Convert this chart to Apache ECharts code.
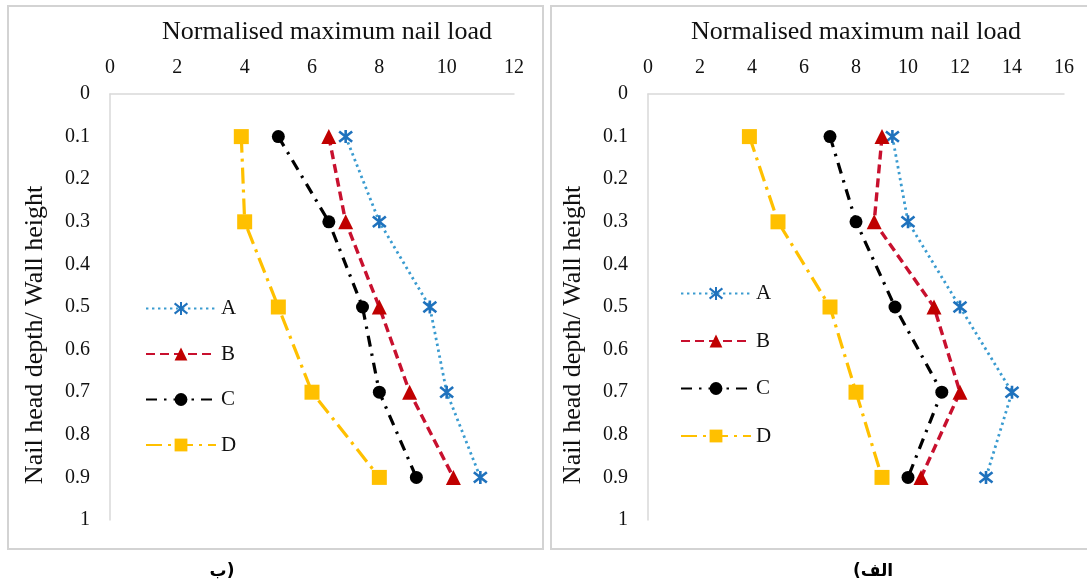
<!DOCTYPE html>
<html><head><meta charset="utf-8">
<script src="https://cdn.jsdelivr.net/npm/echarts@6/dist/echarts.min.js"></script>
<style>html,body{margin:0;padding:0;background:#fff}#c{width:1087px;height:588px}</style>
</head><body><div id="c"></div>
<script>
// ---- data ----
const depths = [0.1, 0.3, 0.5, 0.7, 0.9];
const seriesNames = ['A', 'B', 'C', 'D'];
// left panel (ب)
const leftA = [7, 8, 9.5, 10, 11];
const leftB = [6.5, 7, 8, 8.9, 10.2];
const leftC = [5, 6.5, 7.5, 8, 9.1];
const leftD = [3.9, 4, 5, 6, 8];
// right panel (الف)
const rightA = [9.4, 10, 12, 14, 13];
const rightB = [9, 8.7, 11, 12, 10.5];
const rightC = [7, 8, 9.5, 11.3, 10];
const rightD = [3.9, 5, 7, 8, 9];
// ticks
const leftXTicks = [0, 2, 4, 6, 8, 10, 12];
const rightXTicks = [0, 2, 4, 6, 8, 10, 12, 14, 16];
const yTicks = [0, 0.1, 0.2, 0.3, 0.4, 0.5, 0.6, 0.7, 0.8, 0.9, 1];
// texts
const xAxisTitle = 'Normalised maximum nail load';
const yAxisTitle = 'Nail head depth/ Wall height';
const captions = ['ب)', '(الف'];

// ---- styles ----
const FONT = '"Liberation Serif", "Times New Roman", serif';
const asterisk = 'path://M1,1L9,9M9,1L1,9M5,0L5,10';
const styleOf = {
  A: {symbol: asterisk, size: 13, color: '#1F72BD', line: '#3A9BD0', type: [2.4, 3.6], width: 2.8, fill: '#1F72BD', border: 2.6},
  B: {symbol: 'triangle', size: 15, color: '#C00000', line: '#C8102E', type: [9, 5], width: 3.4, fill: '#C00000', border: 0},
  C: {symbol: 'circle', size: 13, color: '#000000', line: '#000000', type: [11, 7, 2.5, 7], width: 3.2, fill: '#000000', border: 0},
  D: {symbol: 'rect', size: 15, color: '#FFC000', line: '#FFC000', type: [16, 6, 3, 6], width: 3.2, fill: '#FFC000', border: 0}
};

const panels = [
  {data: {A: leftA, B: leftB, C: leftC, D: leftD}, ticks: leftXTicks},
  {data: {A: rightA, B: rightB, C: rightC, D: rightD}, ticks: rightXTicks}
];

const series = [];
panels.forEach((p, pi) => {
  seriesNames.forEach(n => {
    const s = styleOf[n];
    series.push({
      name: n, type: 'line', xAxisIndex: pi, yAxisIndex: pi,
      data: p.data[n].map((v, i) => [v, depths[i]]),
      symbol: s.symbol, symbolSize: s.size, showAllSymbol: true,
      lineStyle: {color: s.line, width: s.width, type: s.type, cap: 'butt'},
      itemStyle: {color: s.fill, borderColor: s.color, borderWidth: s.border},
      emphasis: {disabled: true}, clip: false, animation: false
    });
  });
});

const axisLineStyle = {show: true, lineStyle: {color: '#D9D9D9', width: 1.5}};
const labelStyle = {fontFamily: FONT, fontSize: 20, color: '#111'};
const nameStyle = {fontFamily: FONT, fontSize: 26, color: '#111'};

const grids = [
  {left: 110, top: 94, width: 404, height: 426},
  {left: 648, top: 94, width: 416, height: 426}
];

const xAxes = panels.map((p, pi) => ({
  gridIndex: pi, type: 'value', position: 'top',
  min: p.ticks[0], max: p.ticks[p.ticks.length - 1], interval: p.ticks[1] - p.ticks[0],
  axisLine: axisLineStyle, axisTick: {show: false}, splitLine: {show: false},
  axisLabel: Object.assign({margin: 16}, labelStyle),
  name: xAxisTitle, nameLocation: 'middle', nameGap: 49,
  nameTextStyle: Object.assign({padding: pi === 0 ? [0, 0, 0, 30] : [0, 0, 0, 0]}, nameStyle)
}));

const yAxes = panels.map((p, pi) => ({
  gridIndex: pi, type: 'value', inverse: true,
  min: yTicks[0], max: yTicks[yTicks.length - 1], interval: yTicks[1] - yTicks[0],
  axisLine: axisLineStyle, axisTick: {show: false}, splitLine: {show: false},
  axisLabel: Object.assign({margin: 20, formatter: v => String(+v.toFixed(1))}, labelStyle),
  name: yAxisTitle, nameLocation: 'middle', nameGap: 62, nameRotate: 90,
  nameTextStyle: Object.assign({padding: [0, 56, 0, 0]}, nameStyle)
}));

const legendBase = {
  data: seriesNames, orient: 'vertical', itemWidth: 70, itemHeight: 16,
  selectedMode: false, textStyle: {fontFamily: FONT, fontSize: 21, color: '#111'}
};

const chart = echarts.init(document.getElementById('c'), null, {renderer: 'canvas'});
chart.setOption({
  animation: false,
  backgroundColor: '#fff',
  grid: grids,
  xAxis: xAxes,
  yAxis: yAxes,
  legend: [
    Object.assign({left: 140, top: 293, itemGap: 24.5}, legendBase),
    Object.assign({left: 675, top: 278, itemGap: 26.5}, legendBase)
  ],
  graphic: [
    {type: 'rect', shape: {x: 8, y: 6, width: 535, height: 543}, style: {fill: 'none', stroke: '#D3D3D3', lineWidth: 2}, z: -1},
    {type: 'rect', shape: {x: 551, y: 6, width: 545, height: 543}, style: {fill: 'none', stroke: '#D3D3D3', lineWidth: 2}, z: -1},
    {type: 'text', x: 222, y: 572, style: {text: captions[0], font: 'bold 17px "DejaVu Sans", sans-serif', fill: '#000', textAlign: 'center', textVerticalAlign: 'middle'}},
    {type: 'text', x: 873, y: 572, style: {text: captions[1], font: 'bold 17px "DejaVu Sans", sans-serif', fill: '#000', textAlign: 'center', textVerticalAlign: 'middle'}}
  ],
  series: series
});
</script></body></html>
